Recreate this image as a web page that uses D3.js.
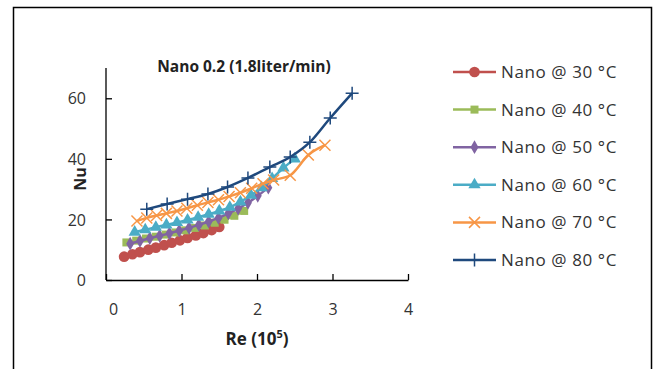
<!DOCTYPE html>
<html>
<head>
<meta charset="utf-8">
<script src="https://cdn.jsdelivr.net/npm/d3@7"></script>
<style>
  body { margin: 0; background: #fff; }
  svg text { font-family: "Open Sans", "Liberation Sans", sans-serif; }
</style>
</head>
<body>
<div id="chart"></div>
<script>
// series data, Re in units of 10^5
var names = ["Nano @ 30 °C", "Nano @ 40 °C", "Nano @ 50 °C", "Nano @ 60 °C", "Nano @ 70 °C", "Nano @ 80 °C"];

var re30 = [0.24, 0.35, 0.45, 0.56, 0.66, 0.77, 0.87, 0.98, 1.08, 1.19, 1.29, 1.40, 1.50];
var nu30 = [7.7, 8.5, 9.2, 10.0, 10.7, 11.5, 12.3, 13.1, 13.9, 14.7, 15.5, 16.5, 17.5];

var re40 = [0.27, 0.40, 0.53, 0.66, 0.79, 0.92, 1.05, 1.18, 1.31, 1.44, 1.57, 1.70, 1.83];
var nu40 = [12.4, 13.0, 13.7, 14.3, 15.0, 15.7, 16.4, 17.2, 18.0, 18.9, 19.9, 21.2, 22.8];

var re50 = [0.32, 0.45, 0.58, 0.71, 0.84, 0.97, 1.10, 1.23, 1.36, 1.49, 1.62, 1.75, 1.88, 2.01, 2.15];
var nu50 = [12.0, 12.9, 13.8, 14.6, 15.4, 16.3, 17.2, 18.2, 19.3, 20.5, 22.0, 23.6, 25.5, 27.8, 30.5];

var re60 = [0.38, 0.52, 0.66, 0.80, 0.94, 1.08, 1.22, 1.36, 1.50, 1.64, 1.78, 1.92, 2.06, 2.20, 2.35, 2.50];
var nu60 = [15.8, 16.6, 17.4, 18.2, 19.0, 19.8, 20.7, 21.7, 22.8, 24.0, 25.8, 28.0, 30.5, 33.5, 37.0, 40.0];

var re70 = [0.41, 0.54, 0.67, 0.80, 0.94, 1.07, 1.21, 1.35, 1.49, 1.63, 1.78, 1.93, 2.08, 2.22, 2.44, 2.68, 2.90];
var nu70 = [19.5, 20.5, 21.3, 22.0, 22.8, 23.7, 24.7, 25.6, 26.5, 27.6, 28.8, 30.3, 31.8, 33.0, 34.6, 41.3, 44.5];

var re80 = [0.54, 0.81, 1.08, 1.35, 1.61, 1.88, 2.17, 2.44, 2.70, 2.97, 3.26];
var nu80 = [23.4, 25.1, 26.7, 28.4, 30.7, 33.7, 37.3, 40.6, 45.5, 53.5, 61.7];

var xTicks = [0, 1, 2, 3, 4];
var yTicks = [0, 20, 40, 60];

var colors = ["#C0504D", "#9BBB59", "#8064A2", "#4BACC6", "#F79646", "#1F497D"];
var shapes = ["circle", "square", "diamond", "triangle", "x", "plus"];

var series = [
    [re30, nu30], [re40, nu40], [re50, nu50],
    [re60, nu60], [re70, nu70], [re80, nu80]
].map(function (s, i) {
    return {
        name: names[i],
        color: colors[i],
        shape: shapes[i],
        pts: s[0].map(function (r, j) { return [r, s[1][j]]; })
    };
});

var width = 654, height = 369;

var svg = d3.select("#chart").append("svg")
    .attr("width", width)
    .attr("height", height);

// outer frame, bottom edge falls outside the picture
svg.append("rect")
    .attr("x", 13.5).attr("y", 7.5)
    .attr("width", 638).attr("height", 380)
    .attr("fill", "none")
    .attr("stroke", "#000")
    .attr("stroke-width", 1.5);

var x = d3.scaleLinear().domain([0, 4]).range([106, 408]),
    y = d3.scaleLinear().domain([0, 70]).range([280, 68]);

var xAxis = d3.axisBottom(x).tickValues(xTicks).tickFormat(d3.format("d"))
        .tickSizeInner(-6).tickSizeOuter(0).tickPadding(24),
    yAxis = d3.axisLeft(y).tickValues(yTicks).tickFormat(d3.format("d"))
        .tickSizeInner(-6).tickSizeOuter(0).tickPadding(20);

var gx = svg.append("g")
    .attr("transform", "translate(0,280)")
    .call(xAxis);
var gy = svg.append("g")
    .attr("transform", "translate(106,0)")
    .call(yAxis);

// y axis line goes up to the top of the plot area
gy.select(".domain").attr("d", "M0," + y(70) + "V" + y(0));

[gx, gy].forEach(function (g) {
    g.select(".domain").attr("stroke", "#000").attr("stroke-width", 1.3);
    g.selectAll(".tick line").attr("stroke", "#000").attr("stroke-width", 1.3);
    g.selectAll(".tick text")
        .attr("fill", "#333")
        .style("font-size", "16px")
        .style("font-family", "'Open Sans', sans-serif");
});
gy.selectAll(".tick text").attr("dy", "0.35em");
// first x label sits a little right of its tick, as in the original
gx.selectAll(".tick text").filter(function (d) { return d === 0; }).attr("dx", 7);

var symbolFor = {
    circle: d3.symbol(d3.symbolCircle, 90),
    square: d3.symbol(d3.symbolSquare, 64),
    diamond: d3.symbol(d3.symbolDiamond, 55),
    triangle: d3.symbol(d3.symbolTriangle, 65)
};

function plusPath(s) {
    return "M" + (-s) + ",0H" + s + "M0," + (-s) + "V" + s;
}
function xPath(s) {
    return "M" + (-s) + "," + (-s) + "L" + s + "," + s + "M" + (-s) + "," + s + "L" + s + "," + (-s);
}

function drawMarker(g, shape, color) {
    if (shape === "x") {
        g.append("path").attr("d", xPath(5.5)).attr("stroke", color).attr("stroke-width", 1.5).attr("fill", "none");
    } else if (shape === "plus") {
        g.append("path").attr("d", plusPath(6.5)).attr("stroke", color).attr("stroke-width", 1.5).attr("fill", "none");
    } else {
        g.append("path").attr("d", symbolFor[shape]()).attr("fill", color);
    }
}

var line = d3.line()
    .x(function (d) { return x(d[0]); })
    .y(function (d) { return y(d[1]); })
    .curve(d3.curveMonotoneX);

series.forEach(function (s) {
    var g = svg.append("g");
    g.append("path")
        .datum(s.pts)
        .attr("d", line)
        .attr("fill", "none")
        .attr("stroke", s.color)
        .attr("stroke-width", 2.5);
    g.selectAll("g.m")
        .data(s.pts)
        .join("g")
        .attr("class", "m")
        .attr("transform", function (d) { return "translate(" + x(d[0]) + "," + y(d[1]) + ")"; })
        .each(function () { drawMarker(d3.select(this), s.shape, s.color); });
});

// title and axis titles
svg.append("text")
    .attr("x", 244).attr("y", 72)
    .attr("text-anchor", "middle")
    .style("font-size", "15.5px").style("font-weight", "bold")
    .attr("fill", "#222")
    .text("Nano 0.2 (1.8liter/min)");

svg.append("text")
    .attr("transform", "translate(86,179) rotate(-90)")
    .attr("text-anchor", "middle")
    .style("font-size", "16px").style("font-weight", "bold")
    .attr("fill", "#222")
    .text("Nu");

var xt = svg.append("text")
    .attr("x", 257).attr("y", 345)
    .attr("text-anchor", "middle")
    .style("font-size", "17px").style("font-weight", "bold")
    .attr("fill", "#222");
xt.append("tspan").text("Re (10");
xt.append("tspan").attr("dy", -7).style("font-size", "11px").text("5");
xt.append("tspan").attr("dy", 7).text(")");

// legend
var legendY = d3.scalePoint().domain(names).range([72, 260]);
var lg = svg.append("g").selectAll("g")
    .data(series)
    .join("g")
    .attr("transform", function (d) { return "translate(453," + legendY(d.name) + ")"; });

lg.append("line")
    .attr("x1", 0).attr("x2", 43)
    .attr("stroke", function (d) { return d.color; })
    .attr("stroke-width", 2.5);
lg.append("g")
    .attr("transform", "translate(21.5,0)")
    .each(function (d) { drawMarker(d3.select(this), d.shape, d.color); });
lg.append("text")
    .attr("x", 48).attr("dy", "0.35em")
    .style("font-size", "17px")
    .style("letter-spacing", "0.6px")
    .attr("fill", "#333")
    .text(function (d) { return d.name; });
</script>
</body>
</html>
